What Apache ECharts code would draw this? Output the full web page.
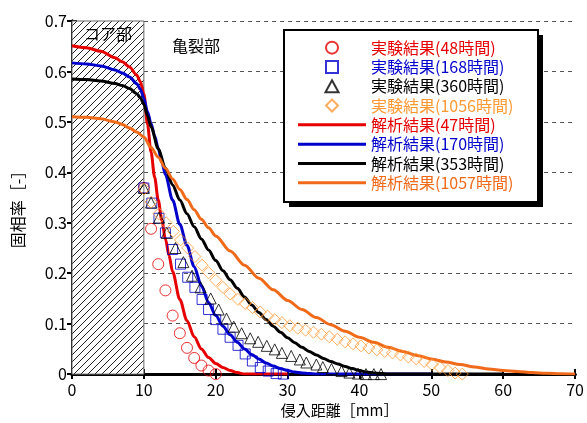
<!DOCTYPE html>
<html>
<head>
<meta charset="utf-8">
<script src="https://cdn.jsdelivr.net/npm/echarts@6/dist/echarts.min.js"></script>
<style>
html,body{margin:0;padding:0;background:#fff}
#c{width:587px;height:423px}
</style>
</head>
<body>
<div id="c"></div>
<script>
// Experimental results (measured points)
const exp48X = [10, 11, 12, 13, 14, 15, 16, 17, 18, 19, 20];
const exp48Y = [0.369, 0.288, 0.218, 0.166, 0.116, 0.081, 0.052, 0.032, 0.017, 0.007, 0.0];

const exp168X = [10, 11.1, 12.1, 13.0, 14.0, 15.1, 16.1, 17.1, 18.1, 19.0, 20.0, 21.0, 22.0, 23.1, 24.1, 25.1, 26.2, 27.3, 28.4, 29.4];
const exp168Y = [0.369, 0.339, 0.309, 0.280, 0.247, 0.218, 0.192, 0.172, 0.148, 0.128, 0.108, 0.089, 0.073, 0.057, 0.040, 0.026, 0.013, 0.006, 0.001, 0.0];

const exp360X = [10.0, 11.0, 12.1, 13.2, 14.4, 15.5, 16.7, 17.9, 19.3, 20.4, 21.5, 22.5, 23.6, 24.8, 25.9, 27.1, 28.2, 29.2, 30.5, 31.7, 32.6, 34.0, 34.9, 36.1, 37.5, 38.6, 39.8, 40.9, 42.0, 43.0];
const exp360Y = [0.369, 0.340, 0.310, 0.280, 0.250, 0.222, 0.195, 0.172, 0.150, 0.128, 0.110, 0.094, 0.081, 0.071, 0.064, 0.056, 0.049, 0.042, 0.036, 0.029, 0.023, 0.019, 0.014, 0.010, 0.006, 0.003, 0.001, 0.0, 0.0, 0.0];

const exp1056X = [10.0, 11.0, 12.1, 13.1, 14.1, 15.1, 16.1, 17.1, 18.1, 19.0, 20.0, 21.0, 22.0, 23.1, 24.1, 25.1, 26.2, 27.2, 28.2, 29.2, 30.3, 31.4, 32.5, 33.6, 34.7, 35.8, 36.9, 38.0, 39.1, 40.2, 41.3, 42.4, 43.5, 44.6, 45.7, 46.8, 47.9, 49.0, 50.1, 51.2, 52.3, 53.3, 54.3];
const exp1056Y = [0.367, 0.341, 0.318, 0.300, 0.283, 0.266, 0.250, 0.233, 0.216, 0.201, 0.186, 0.172, 0.159, 0.148, 0.140, 0.132, 0.123, 0.115, 0.108, 0.102, 0.096, 0.091, 0.087, 0.083, 0.079, 0.074, 0.069, 0.064, 0.060, 0.056, 0.052, 0.048, 0.045, 0.042, 0.038, 0.034, 0.030, 0.025, 0.019, 0.013, 0.007, 0.002, 0.0];

// Analysis results (computed profiles)
const calc47X = [0, 2, 4, 6, 7, 8, 9, 9.5, 10, 10.5, 11, 11.5, 12, 12.5, 13, 13.5, 14, 15, 16, 17, 18, 19, 20, 21, 22, 23, 24, 26, 28, 30];
const calc47Y = [0.651, 0.647, 0.640, 0.627, 0.619, 0.609, 0.593, 0.580, 0.556, 0.495, 0.440, 0.390, 0.345, 0.305, 0.268, 0.235, 0.203, 0.148, 0.106, 0.074, 0.050, 0.033, 0.021, 0.013, 0.007, 0.003, 0, 0, 0, 0];

const calc170X = [0, 2, 4, 6, 7, 8, 9, 9.5, 10, 10.5, 11, 11.5, 12, 12.5, 13, 14, 15, 16, 17, 18, 19, 20, 21, 22, 23, 24, 25, 26, 27, 28, 29, 30, 31, 32, 33, 34, 35, 40, 45, 50];
const calc170Y = [0.617, 0.615, 0.611, 0.603, 0.597, 0.589, 0.576, 0.565, 0.547, 0.520, 0.497, 0.472, 0.447, 0.420, 0.395, 0.345, 0.297, 0.255, 0.213, 0.175, 0.142, 0.116, 0.095, 0.078, 0.063, 0.050, 0.039, 0.030, 0.022, 0.016, 0.011, 0.007, 0.004, 0.002, 0.001, 0, 0, 0, 0, 0];

const calc353X = [0, 2, 4, 6, 7, 8, 9, 9.5, 10, 10.5, 11, 12, 13, 14, 15, 16, 17, 18, 19, 20, 21, 22, 23, 24, 25, 26, 27, 28, 29, 30, 31, 32, 33, 34, 35, 36, 37, 38, 39, 40, 41, 42, 43, 44, 50, 60];
const calc353Y = [0.585, 0.584, 0.581, 0.576, 0.572, 0.566, 0.556, 0.548, 0.535, 0.512, 0.490, 0.447, 0.408, 0.375, 0.345, 0.318, 0.292, 0.268, 0.246, 0.225, 0.205, 0.187, 0.170, 0.153, 0.137, 0.122, 0.108, 0.095, 0.083, 0.072, 0.062, 0.053, 0.045, 0.038, 0.031, 0.025, 0.020, 0.015, 0.011, 0.007, 0.004, 0.002, 0.001, 0, 0, 0];

const calc1057X = [0, 2, 4, 6, 7, 8, 9, 10, 11, 12, 13, 14, 15, 16, 17, 18, 19, 20, 22, 24, 26, 28, 30, 32, 34, 36, 38, 40, 42, 44, 46, 48, 50, 52, 54, 56, 58, 60, 62, 64, 66, 68, 70];
const calc1057Y = [0.510, 0.509, 0.506, 0.500, 0.495, 0.488, 0.480, 0.470, 0.449, 0.430, 0.408, 0.387, 0.366, 0.346, 0.326, 0.307, 0.290, 0.274, 0.244, 0.216, 0.190, 0.167, 0.146, 0.128, 0.112, 0.098, 0.085, 0.073, 0.063, 0.053, 0.045, 0.037, 0.030, 0.024, 0.019, 0.014, 0.010, 0.007, 0.005, 0.003, 0.0015, 0.0005, 0];

const xTicks = { min: 0, max: 70, step: 10 };
const yTicks = { min: 0, max: 0.7, step: 0.1 };

const FONT = '"Noto Sans CJK JP", "Noto Sans", sans-serif';
const C_RED = '#e60000', C_BLUE = '#0000cc', C_BLACK = '#000000';
const C_ORANGE_PT = '#ff9933', C_ORANGE_LN = '#f06a1a';

// legend glyphs (square boxes so the marker shapes keep their proportions)
const ICON_LINE = 'path://M0,0 L68,0 L68,3 L0,3 Z';
const ICON_RECT = 'path://M1,1 L11,1 L11,11 L1,11 Z';
const ICON_TRI = 'path://M6,0 L12,11 L0,11 Z';
const ICON_DIAMOND = 'path://M6,0 L12,6 L6,12 L0,6 Z';

const zip = (xs, ys) => xs.map((x, i) => [x, ys[i]]);

// diagonal hatch used for the core zone
function hatchPattern() {
  const s = 7;
  const c = document.createElement('canvas');
  c.width = s; c.height = s;
  const g = c.getContext('2d');
  g.fillStyle = '#fff';
  g.fillRect(0, 0, s, s);
  g.strokeStyle = '#222';
  g.lineWidth = 1;
  g.beginPath();
  g.moveTo(-1, s + 1); g.lineTo(s + 1, -1);
  g.moveTo(-1, 1); g.lineTo(1, -1);
  g.moveTo(s - 1, s + 1); g.lineTo(s + 1, s - 1);
  g.stroke();
  return c;
}

function lineSeries(name, xs, ys, color) {
  return {
    name, type: 'line', data: zip(xs, ys), z: 3,
    showSymbol: false, symbol: 'none', smooth: 0.3, smoothMonotone: 'x',
    lineStyle: { color, width: 3 }, itemStyle: { color }
  };
}
function pointSeries(name, xs, ys, symbol, size, color) {
  return {
    name, type: 'scatter', data: zip(xs, ys), z: 4,
    symbol, symbolSize: size, symbolKeepAspect: true,
    itemStyle: { color: 'rgba(0,0,0,0)', borderColor: color, borderWidth: 1 }
  };
}

const names = {
  e48: '実験結果(48時間)', e168: '実験結果(168時間)', e360: '実験結果(360時間)', e1056: '実験結果(1056時間)',
  c47: '解析結果(47時間)', c170: '解析結果(170時間)', c353: '解析結果(353時間)', c1057: '解析結果(1057時間)'
};

const axisLine = { show: true, lineStyle: { color: '#000', width: 3 } };
const axisTick = { show: true, inside: true, length: 5, lineStyle: { color: '#000', width: 2 } };

const chart = echarts.init(document.getElementById('c'));
chart.setOption({
  backgroundColor: '#fff',
  animation: false,
  textStyle: { fontFamily: FONT },
  grid: { left: 72, right: 9, top: 21, bottom: 43 },
  xAxis: [{
    type: 'value', position: 'bottom', min: xTicks.min, max: xTicks.max, interval: xTicks.step,
    axisLine, axisTick, splitLine: { show: false },
    axisLabel: { color: '#000', fontSize: 16, margin: 8, fontFamily: FONT },
    name: '侵入距離［mm］', nameLocation: 'middle', nameGap: 28,
    nameTextStyle: { color: '#000', fontSize: 15, fontFamily: FONT, padding: [0, 0, 0, 32] }
  }, {
    type: 'value', position: 'top', min: xTicks.min, max: xTicks.max, interval: xTicks.step,
    axisLine, axisTick, axisLabel: { show: false }, splitLine: { show: false }
  }],
  yAxis: [{
    type: 'value', position: 'left', min: yTicks.min, max: yTicks.max, interval: yTicks.step,
    axisLine, axisTick,
    axisLabel: { color: '#000', fontSize: 16, margin: 5, fontFamily: FONT,
      formatter: v => (Math.abs(v) < 1e-9 ? '0' : v.toFixed(1)) },
    splitLine: { show: true, lineStyle: { color: '#555', width: 1, type: [4, 4] } },
    name: '固相率［-］', nameLocation: 'middle', nameGap: 46, nameRotate: 90,
    nameTextStyle: { color: '#000', fontSize: 16, fontFamily: FONT, padding: [0, 16, 0, 0] }
  }, {
    type: 'value', position: 'right', min: yTicks.min, max: yTicks.max, interval: yTicks.step,
    axisLine, axisTick, axisLabel: { show: false }, splitLine: { show: false }
  }],
  legend: {
    orient: 'vertical', left: 298, top: 38, padding: 0, z: 10,
    itemWidth: 68, itemHeight: 12, itemGap: 0, symbolKeepAspect: true,
    textStyle: { fontSize: 16, lineHeight: 19.3, fontFamily: FONT },
    data: [
      { name: names.e48, icon: 'circle', textStyle: { color: C_RED } },
      { name: names.e168, icon: ICON_RECT, textStyle: { color: C_BLUE } },
      { name: names.e360, icon: ICON_TRI, textStyle: { color: C_BLACK } },
      { name: names.e1056, icon: ICON_DIAMOND, textStyle: { color: C_ORANGE_PT } },
      { name: names.c47, icon: ICON_LINE, textStyle: { color: C_RED } },
      { name: names.c170, icon: ICON_LINE, textStyle: { color: C_BLUE } },
      { name: names.c353, icon: ICON_LINE, textStyle: { color: C_BLACK } },
      { name: names.c1057, icon: ICON_LINE, textStyle: { color: C_ORANGE_LN } }
    ]
  },
  graphic: [
    { type: 'rect', z: 8, silent: true, shape: { x: 289, y: 35, width: 254, height: 172 }, style: { fill: '#000' } },
    { type: 'rect', z: 9, silent: true, shape: { x: 284, y: 30, width: 254, height: 172 }, style: { fill: '#fff', stroke: '#000', lineWidth: 2 } },
    { type: 'text', z: 5, silent: true, left: 172, top: 38, style: { text: '亀裂部', fill: '#000', font: '16px ' + FONT } }
  ],
  series: [
    {
      name: 'core-zone', type: 'line', data: [], z: 1, silent: true,
      markArea: {
        silent: true,
        itemStyle: { color: { image: hatchPattern(), repeat: 'repeat' }, borderColor: '#666', borderWidth: 1 },
        label: { show: true, position: 'insideTop', distance: 5, formatter: 'コア部', color: '#000', fontSize: 16, fontFamily: FONT },
        data: [[{ xAxis: 0, yAxis: 0 }, { xAxis: 10, yAxis: 0.7 }]]
      }
    },
    lineSeries(names.c47, calc47X, calc47Y, C_RED),
    lineSeries(names.c170, calc170X, calc170Y, C_BLUE),
    lineSeries(names.c353, calc353X, calc353Y, C_BLACK),
    lineSeries(names.c1057, calc1057X, calc1057Y, C_ORANGE_LN),
    pointSeries(names.e48, exp48X, exp48Y, 'circle', 11, C_RED),
    pointSeries(names.e168, exp168X, exp168Y, 'rect', 10, C_BLUE),
    pointSeries(names.e360, exp360X, exp360Y, 'triangle', 11, C_BLACK),
    pointSeries(names.e1056, exp1056X, exp1056Y, 'diamond', 12, C_ORANGE_PT)
  ]
});
</script>
</body>
</html>
